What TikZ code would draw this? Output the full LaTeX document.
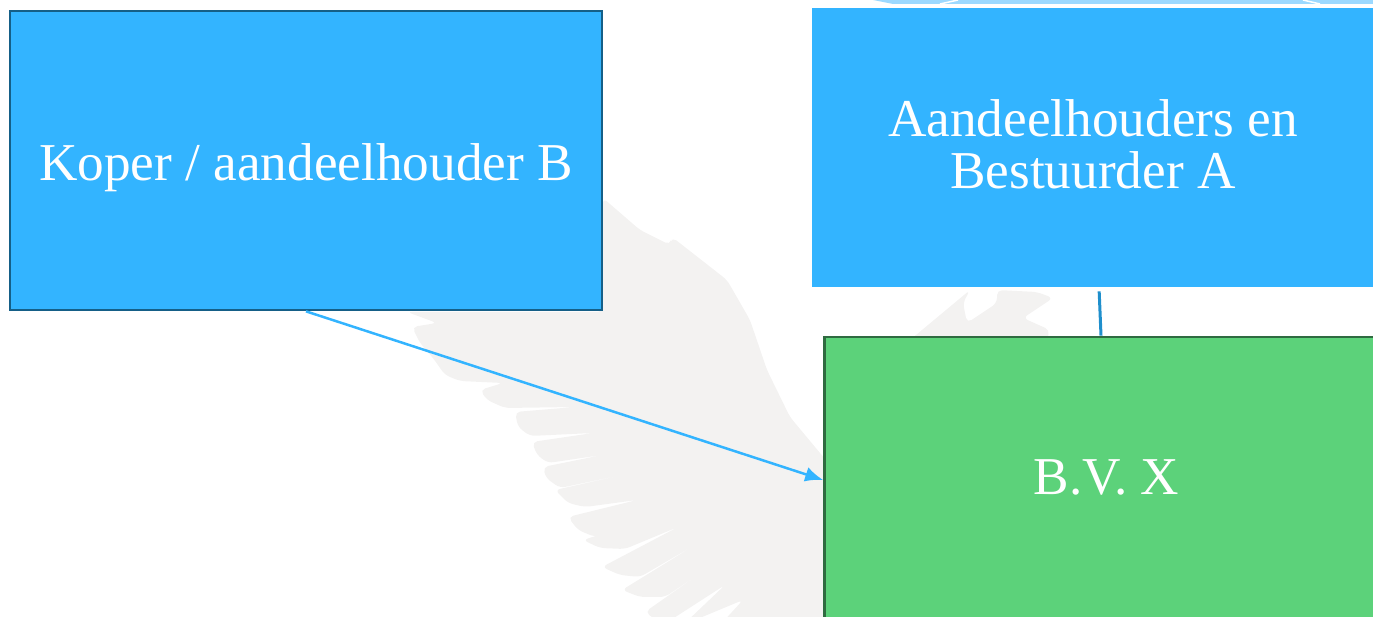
\documentclass[tikz,border=0pt]{standalone}
\usepackage{fontspec}
\setmainfont{Liberation Serif}
\usepackage{xcolor}
\usetikzlibrary{arrows.meta}

\definecolor{boxblue}{HTML}{33B4FF}
\definecolor{edgeblue}{HTML}{155F87}
\definecolor{linkblue}{HTML}{1F8FCC}
\definecolor{boxgreen}{HTML}{5CD27A}
\definecolor{edgegreen}{HTML}{2F6B40}
\definecolor{wingGrey}{HTML}{F3F2F1}
\definecolor{stripBlue}{HTML}{9CD9FF}

\tikzset{
  party/.style={fill=boxblue, text=white, align=center, inner sep=0pt,
    font=\fontsize{30.3}{29.3}\selectfont},
}

\begin{document}
\begin{tikzpicture}[x=0.02cm, y=-0.02cm]
          \useasboundingbox (0,0) rectangle (1373,617);
          \clip (0,0) rectangle (1373,617);

          % watermark
          \fill[wingGrey, rounded corners=3pt] (603,198) -- (640,230) -- (670,245) -- (672,237)
            -- (727,280) -- (750,320) -- (767,370) -- (790,417) -- (830,465)
            -- (830,625) -- (720,625) -- (743,600) -- (683,625) -- (725,585)
            -- (663,625) -- (645,612) -- (712,565) -- (665,597) -- (640,597) -- (622,590)
            -- (700,542) -- (640,577) -- (620,575) -- (602,567) -- (678,527)
            -- (625,549) -- (600,548) -- (583,540) -- (640,522) -- (595,537)
            -- (578,530) -- (568,517) -- (637,500) -- (585,507) -- (568,503)
            -- (555,490) -- (645,470) -- (560,488) -- (546,478) -- (543,467)
            -- (602,455) -- (548,463) -- (537,455) -- (532,442) -- (593,433)
            -- (530,436) -- (518,427) -- (515,412) -- (575,407) -- (505,408)
            -- (487,400) -- (480,390) -- (503,383) -- (460,381) -- (445,375)
            -- (433,358) -- (420,343) -- (412,327) -- (437,323) -- (407,312)
            -- (603,312) -- cycle;
          \fill[wingGrey, rounded corners=3pt] (970,290) -- (963,303) -- (967,323) -- (997,303)
            -- (997,290) -- (1037,292) -- (1053,298) -- (1023,318) -- (1050,330)
            -- (1047,340) -- (910,340) -- cycle;
          \fill[stripBlue] (873,0) -- (893,4) -- (1373,4) -- (1373,0) -- cycle;
          \draw[white, line width=0.03cm] (940,4) -- (958,0) (1303,0) -- (1320,4);

          \node[party, draw=edgeblue, line width=0.055cm, minimum width=11.84cm,
            minimum height=5.98cm, text height=29pt] (koper) at (306,160.5)
            {Koper / aandeelhouder B};
          \node[party, minimum width=11.24cm, minimum height=5.58cm, text depth=4pt] (houders)
            at (1093,147.5) {Aandeelhouders en\\Bestuurder A};
          \node[fill=boxgreen, draw=edgegreen, line width=0.055cm, text=white,
            inner sep=0pt, minimum width=11.28cm, minimum height=5.8cm, text depth=5.7pt,
            font=\fontsize{30.3}{29.3}\selectfont] (bvx) at (1106.5,482) {B.V. X};

          \draw[boxblue, line width=0.05cm, -{Latex[length=0.36cm, width=0.3cm]}]
            (koper.south) -- ([yshift=0.04cm]bvx.west);
          \draw[linkblue, line width=0.06cm, shorten <=0.08cm]
            ([xshift=0.12cm]houders.south) -- ([xshift=-0.11cm]bvx.north);
        \end{tikzpicture}
\end{document}
